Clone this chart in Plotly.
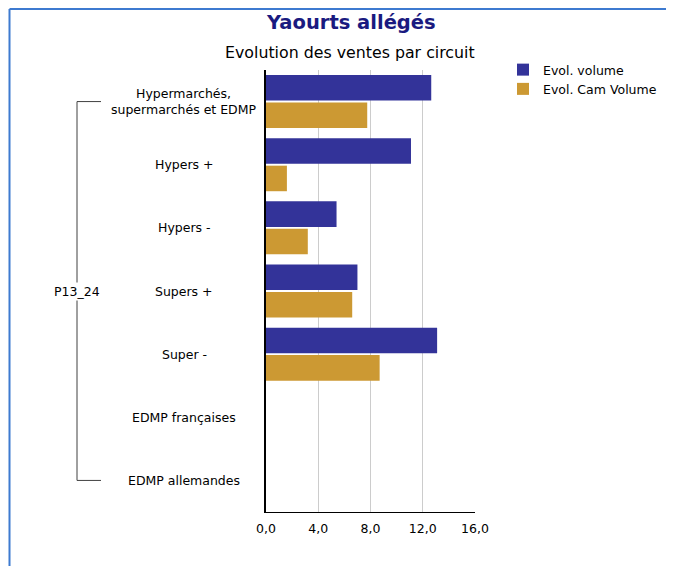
import plotly.graph_objects as go

categories = ["Hypermarchés,<br>supermarchés et EDMP", "Hypers +", "Hypers -", "Supers +",
              "Super -", "EDMP françaises", "EDMP allemandes"]
evol_volume = [12.65, 11.1, 5.4, 7.0, 13.1, 0.0, 0.0]
evol_cam_volume = [7.75, 1.6, 3.2, 6.6, 8.7, 0.0, 0.0]
series_names = ["Evol. volume", "Evol. Cam Volume"]
group_label = "P13_24"
x_ticks = [0, 4, 8, 12, 16]

W, H = 674, 566
OFF = 8  # page body margin offset
# target positions in viewport pixels
L, R, T, B = 266, 475, 70, 512
pw, ph = R - L, B - T


def px(x):
    return (x - L) / pw


def py(y):
    return (B - y) / ph


FONT = "DejaVu Sans"

fig = go.Figure()
fig.add_trace(go.Bar(y=categories, x=evol_volume, orientation="h", name=series_names[0],
                     marker=dict(color="#333399", line=dict(width=0))))
fig.add_trace(go.Bar(y=categories, x=evol_cam_volume, orientation="h", name=series_names[1],
                     marker=dict(color="#CC9933", line=dict(width=0))))

annotations = []
for c in categories:
    annotations.append(dict(x=px(184), xref="paper", y=c, yref="y", text=c, showarrow=False,
                            xanchor="center", yanchor="middle", align="center",
                            font=dict(family=FONT, size=12.5, color="#000000")))
annotations.append(dict(x=px(77), xref="paper", y=py(291), yref="paper", text=group_label,
                        showarrow=False, xanchor="center", yanchor="middle",
                        bgcolor="#ffffff", font=dict(family=FONT, size=12.5, color="#000000")))
annotations.append(dict(x=px(351), xref="paper", y=py(23), yref="paper",
                        text="<b>Yaourts allégés</b>", showarrow=False, xanchor="center",
                        yanchor="middle", font=dict(family=FONT, size=19.5, color="#1a1a80")))
annotations.append(dict(x=px(350), xref="paper", y=py(53), yref="paper",
                        text="Evolution des ventes par circuit", showarrow=False,
                        xanchor="center", yanchor="middle",
                        font=dict(family=FONT, size=15.8, color="#000000")))

shapes = [
    # bracket
    dict(type="line", xref="paper", yref="y", x0=px(77), x1=px(77), y0=categories[0], y1=categories[-1],
         line=dict(color="#404040", width=1)),
    dict(type="line", xref="paper", yref="y", x0=px(77), x1=px(101), y0=categories[0], y1=categories[0],
         line=dict(color="#404040", width=1)),
    dict(type="line", xref="paper", yref="y", x0=px(77), x1=px(101), y0=categories[-1], y1=categories[-1],
         line=dict(color="#404040", width=1)),
    # frame
    dict(type="line", xref="paper", yref="paper", x0=px(9.5), x1=px(9.5), y0=py(OFF + 1), y1=py(620),
         line=dict(color="#3d7ad0", width=2)),
    dict(type="line", xref="paper", yref="paper", x0=px(9.5), x1=px(720), y0=py(OFF + 1), y1=py(OFF + 1),
         line=dict(color="#3d7ad0", width=2)),
]

fig.update_layout(
    width=W, height=H,
    margin=dict(l=L - OFF, r=W - (R - OFF), t=T - OFF, b=H - (B - OFF), pad=0, autoexpand=False),
    paper_bgcolor="#ffffff", plot_bgcolor="#ffffff",
    barmode="group", bargap=0.13, bargroupgap=0.07,
    separators=", ",
    font=dict(family=FONT, size=12, color="#000000"),
    showlegend=True,
    legend=dict(x=px(503), y=py(55), xanchor="left", yanchor="top",
                font=dict(family=FONT, size=12.5, color="#000000"),
                tracegroupgap=0, itemwidth=30, bgcolor="rgba(0,0,0,0)"),
    annotations=annotations,
    shapes=shapes,
    xaxis=dict(range=[0, 16], tickvals=x_ticks, tickformat=".1f", showgrid=True,
               gridcolor="#cccccc", gridwidth=1, zeroline=False, showline=True,
               linecolor="#000000", linewidth=1, ticks="", ticklen=0, ticklabelstandoff=5,
               tickfont=dict(family=FONT, size=12.5, color="#000000")),
    yaxis=dict(autorange="reversed", showticklabels=False, showgrid=False, zeroline=False,
               showline=True, linecolor="#000000", linewidth=2, ticks=""),
)

fig.write_html("out.html")
